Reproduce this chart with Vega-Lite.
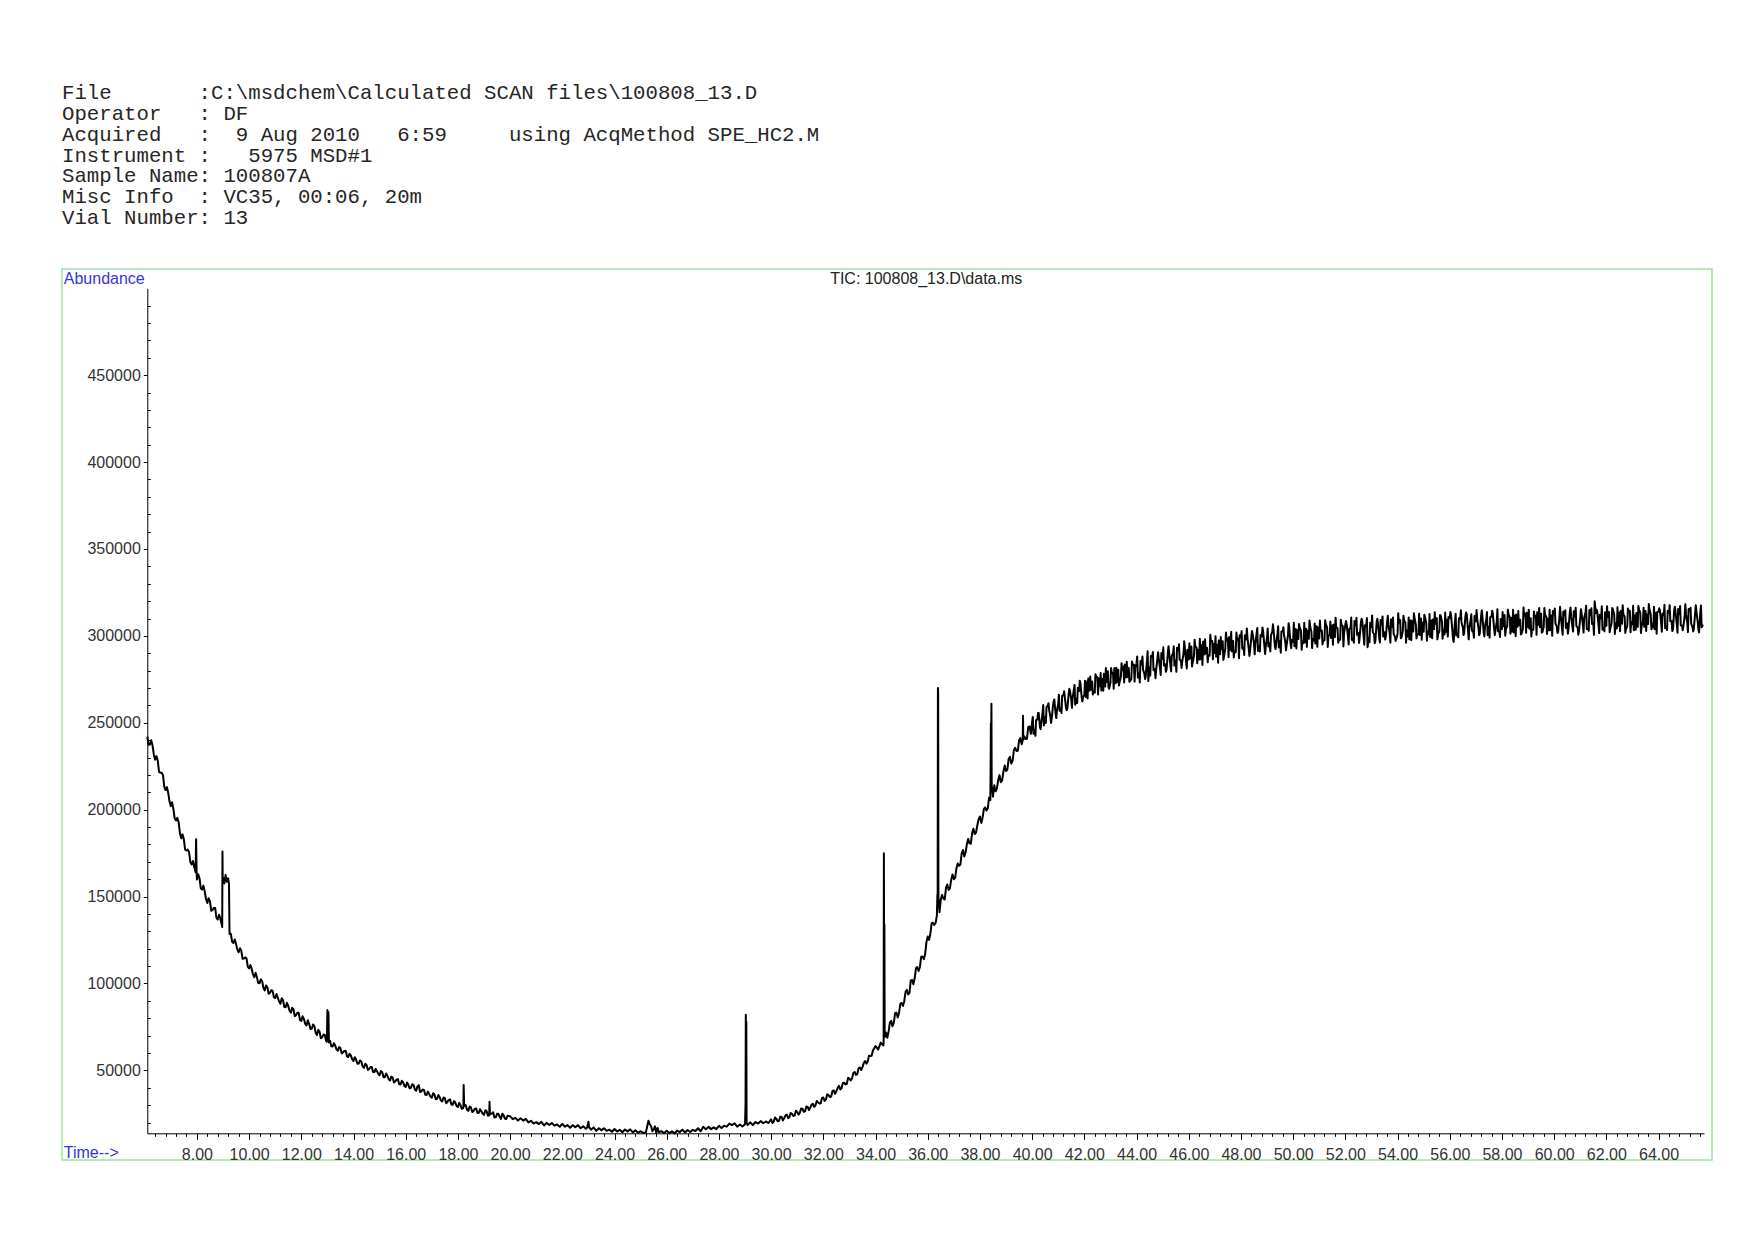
{
"$schema": "https://vega.github.io/schema/vega-lite/v6.json",
"width": 1650,
"height": 891,
"autosize": {"type": "none"},
"padding": {"left": 62, "top": 269, "right": 42, "bottom": 80},
"background": "white",
"title": {
"text": ["File\u00a0\u00a0\u00a0\u00a0\u00a0\u00a0\u00a0:C:\\msdchem\\Calculated SCAN files\\100808_13.D", "Operator\u00a0\u00a0\u00a0: DF", "Acquired\u00a0\u00a0\u00a0:\u00a0\u00a09 Aug 2010\u00a0\u00a0\u00a06:59\u00a0\u00a0\u00a0\u00a0\u00a0using AcqMethod SPE_HC2.M", "Instrument :\u00a0\u00a0\u00a05975 MSD#1", "Sample Name: 100807A", "Misc Info\u00a0\u00a0: VC35, 00:06, 20m", "Vial Number: 13"],
"anchor": "start", "frame": "group", "orient": "top", "font": "Liberation Mono", "fontSize": 20.7, "fontWeight": "normal", "color": "#262626", "lineHeight": 20.9, "baseline": "bottom", "offset": 20
},
"data": {"values": [
{"t":6.1,"a":242000},{"t":6.2,"a":237500},{"t":6.3,"a":237000},{"t":6.4,"a":228800},{"t":6.5,"a":228300},{"t":6.6,"a":221300},{"t":6.7,"a":220000},{"t":6.8,"a":211300},{"t":6.9,"a":209800},{"t":7.0,"a":202000},
{"t":7.1,"a":200300},{"t":7.2,"a":193800},{"t":7.3,"a":192800},{"t":7.4,"a":183500},{"t":7.5,"a":183000},{"t":7.6,"a":176500},{"t":7.7,"a":175500},{"t":7.8,"a":168500},{"t":7.9,"a":167000},{"t":7.95,"a":164000},
{"t":7.97,"a":183000},{"t":7.99,"a":163500},{"t":8.0,"a":159800},{"t":8.1,"a":160500},{"t":8.2,"a":154000},{"t":8.3,"a":153000},{"t":8.4,"a":146300},{"t":8.5,"a":147300},{"t":8.6,"a":142300},{"t":8.7,"a":143500},
{"t":8.8,"a":136800},{"t":8.9,"a":137300},{"t":8.95,"a":134000},{"t":8.97,"a":132500},{"t":8.98,"a":176000},{"t":8.99,"a":158000},{"t":9.0,"a":161000},{"t":9.05,"a":157500},{"t":9.1,"a":162500},{"t":9.15,"a":158500},
{"t":9.2,"a":160500},{"t":9.23,"a":157000},{"t":9.25,"a":128500},{"t":9.3,"a":128600},{"t":9.4,"a":123300},{"t":9.5,"a":122800},{"t":9.6,"a":118000},{"t":9.7,"a":118900},{"t":9.8,"a":114400},{"t":9.9,"a":114500},
{"t":10.0,"a":108600},{"t":10.1,"a":108500},{"t":10.2,"a":103600},{"t":10.3,"a":103600},{"t":10.4,"a":100200},{"t":10.5,"a":101300},{"t":10.6,"a":96000},{"t":10.7,"a":97800},{"t":10.8,"a":94700},{"t":10.9,"a":95900},
{"t":11.0,"a":91600},{"t":11.1,"a":91800},{"t":11.2,"a":88300},{"t":11.3,"a":90400},{"t":11.4,"a":86300},{"t":11.5,"a":87100},{"t":11.6,"a":83200},{"t":11.7,"a":85200},{"t":11.8,"a":81900},{"t":11.9,"a":83200},
{"t":12.0,"a":78500},{"t":12.1,"a":79600},{"t":12.2,"a":75800},{"t":12.3,"a":76800},{"t":12.4,"a":74000},{"t":12.5,"a":75600},{"t":12.6,"a":70400},{"t":12.7,"a":72200},{"t":12.8,"a":69100},{"t":12.9,"a":70400},
{"t":12.95,"a":67000},{"t":12.98,"a":66500},{"t":13.0,"a":84700},{"t":13.02,"a":72000},{"t":13.04,"a":83500},{"t":13.06,"a":66000},{"t":13.1,"a":67000},{"t":13.2,"a":63800},{"t":13.3,"a":64200},{"t":13.4,"a":61300},
{"t":13.5,"a":62800},{"t":13.6,"a":60300},{"t":13.7,"a":61300},{"t":13.8,"a":57700},{"t":13.9,"a":58500},{"t":14.0,"a":55400},{"t":14.1,"a":56100},{"t":14.2,"a":53900},{"t":14.3,"a":55100},{"t":14.4,"a":51400},
{"t":14.5,"a":53100},{"t":14.6,"a":50800},{"t":14.7,"a":51900},{"t":14.8,"a":49000},{"t":14.9,"a":49500},{"t":15.0,"a":47200},{"t":15.1,"a":49000},{"t":15.2,"a":46100},{"t":15.3,"a":46900},{"t":15.4,"a":44200},
{"t":15.5,"a":45900},{"t":15.6,"a":43700},{"t":15.7,"a":45000},{"t":15.8,"a":41900},{"t":15.9,"a":43100},{"t":16.0,"a":40500},{"t":16.1,"a":41700},{"t":16.2,"a":40000},{"t":16.3,"a":41600},{"t":16.4,"a":38300},
{"t":16.5,"a":41500},{"t":16.6,"a":37900},{"t":16.7,"a":38800},{"t":16.8,"a":35900},{"t":16.9,"a":36400},{"t":17.0,"a":34200},{"t":17.1,"a":36200},{"t":17.2,"a":33600},{"t":17.3,"a":34600},{"t":17.4,"a":32100},
{"t":17.5,"a":34000},{"t":17.6,"a":31900},{"t":17.7,"a":33300},{"t":17.8,"a":30200},{"t":17.9,"a":31500},{"t":18.0,"a":28900},{"t":18.1,"a":30000},{"t":18.2,"a":28300},{"t":18.21,"a":29000},{"t":18.22,"a":41600},
{"t":18.24,"a":29500},{"t":18.3,"a":30000},{"t":18.4,"a":26700},{"t":18.5,"a":28700},{"t":18.6,"a":26700},{"t":18.7,"a":28100},{"t":18.8,"a":25600},{"t":18.9,"a":26400},{"t":19.0,"a":24400},{"t":19.1,"a":26600},
{"t":19.2,"a":24100},{"t":19.21,"a":32000},{"t":19.23,"a":24800},{"t":19.3,"a":25100},{"t":19.4,"a":22900},{"t":19.5,"a":25000},{"t":19.6,"a":23300},{"t":19.7,"a":25000},{"t":19.8,"a":22300},{"t":19.9,"a":23900},
{"t":20.0,"a":23600},{"t":20.1,"a":22000},{"t":20.2,"a":22700},{"t":20.3,"a":21100},{"t":20.4,"a":22400},{"t":20.5,"a":21100},{"t":20.6,"a":22100},{"t":20.7,"a":20100},{"t":20.8,"a":21000},{"t":20.9,"a":19400},
{"t":21.0,"a":20200},{"t":21.1,"a":19100},{"t":21.2,"a":20400},{"t":21.3,"a":18300},{"t":21.4,"a":19800},{"t":21.5,"a":18600},{"t":21.6,"a":19700},{"t":21.7,"a":18200},{"t":21.8,"a":18900},{"t":21.9,"a":17600},
{"t":22.0,"a":19200},{"t":22.1,"a":17600},{"t":22.2,"a":18500},{"t":22.3,"a":17000},{"t":22.4,"a":18500},{"t":22.5,"a":17300},{"t":22.6,"a":18500},{"t":22.7,"a":16700},{"t":22.8,"a":17800},{"t":22.9,"a":16400},
{"t":22.95,"a":17000},{"t":23.0,"a":20500},{"t":23.02,"a":17500},{"t":23.1,"a":15900},{"t":23.2,"a":17200},{"t":23.3,"a":15200},{"t":23.4,"a":16700},{"t":23.5,"a":15600},{"t":23.6,"a":16700},{"t":23.7,"a":15200},
{"t":23.8,"a":15900},{"t":23.9,"a":14700},{"t":24.0,"a":16300},{"t":24.1,"a":14800},{"t":24.2,"a":15800},{"t":24.3,"a":14400},{"t":24.4,"a":16000},{"t":24.5,"a":14900},{"t":24.6,"a":16100},{"t":24.7,"a":14300},
{"t":24.8,"a":15500},{"t":24.9,"a":14100},{"t":25.0,"a":15000},{"t":25.1,"a":14000},{"t":25.2,"a":14300},{"t":25.3,"a":21000},{"t":25.35,"a":19000},{"t":25.4,"a":18000},{"t":25.45,"a":15000},{"t":25.5,"a":16000},
{"t":25.55,"a":17800},{"t":25.6,"a":14000},{"t":25.65,"a":16800},{"t":25.7,"a":14500},{"t":25.8,"a":15000},{"t":25.9,"a":13900},{"t":26.0,"a":15300},{"t":26.1,"a":13900},{"t":26.2,"a":15000},{"t":26.3,"a":13700},
{"t":26.4,"a":15400},{"t":26.5,"a":14500},{"t":26.6,"a":15900},{"t":26.7,"a":14300},{"t":26.8,"a":15700},{"t":26.9,"a":14500},{"t":27.0,"a":15800},{"t":27.1,"a":15100},{"t":27.2,"a":16700},{"t":27.3,"a":15000},
{"t":27.4,"a":17500},{"t":27.5,"a":16100},{"t":27.6,"a":17500},{"t":27.7,"a":16200},{"t":27.8,"a":17200},{"t":27.9,"a":16200},{"t":28.0,"a":18100},{"t":28.1,"a":16800},{"t":28.2,"a":18200},{"t":28.3,"a":17600},
{"t":28.4,"a":19400},{"t":28.5,"a":18500},{"t":28.6,"a":19500},{"t":28.7,"a":17600},{"t":28.8,"a":18900},{"t":28.9,"a":17700},{"t":29.0,"a":19000},{"t":29.02,"a":31000},{"t":29.03,"a":82000},{"t":29.04,"a":62000},
{"t":29.05,"a":78000},{"t":29.06,"a":20000},{"t":29.1,"a":18500},{"t":29.2,"a":20100},{"t":29.3,"a":18500},{"t":29.4,"a":20300},{"t":29.5,"a":19400},{"t":29.6,"a":20800},{"t":29.7,"a":19600},{"t":29.8,"a":20600},
{"t":29.9,"a":19700},{"t":30.0,"a":21900},{"t":30.1,"a":20500},{"t":30.2,"a":22100},{"t":30.3,"a":20900},{"t":30.4,"a":23200},{"t":30.5,"a":22500},{"t":30.6,"a":24600},{"t":30.7,"a":23100},{"t":30.8,"a":25000},
{"t":30.9,"a":24000},{"t":31.0,"a":26000},{"t":31.1,"a":25600},{"t":31.2,"a":28000},{"t":31.3,"a":26400},{"t":31.4,"a":29000},{"t":31.5,"a":28500},{"t":31.6,"a":30800},{"t":31.7,"a":29900},{"t":31.8,"a":31600},
{"t":31.9,"a":31100},{"t":32.0,"a":34400},{"t":32.1,"a":33300},{"t":32.2,"a":35800},{"t":32.3,"a":35000},{"t":32.4,"a":38500},{"t":32.5,"a":38100},{"t":32.6,"a":41100},{"t":32.7,"a":39800},{"t":32.8,"a":42900},
{"t":32.9,"a":42300},{"t":33.0,"a":45300},{"t":33.1,"a":45500},{"t":33.2,"a":49100},{"t":33.3,"a":47700},{"t":33.4,"a":51700},{"t":33.5,"a":51900},{"t":33.6,"a":55400},{"t":33.7,"a":55100},{"t":33.8,"a":58300},
{"t":33.9,"a":61500},{"t":34.0,"a":64000},{"t":34.1,"a":62000},{"t":34.2,"a":66000},{"t":34.3,"a":64300},{"t":34.31,"a":66000},{"t":34.32,"a":175000},{"t":34.33,"a":100000},{"t":34.34,"a":134000},{"t":34.35,"a":69000},
{"t":34.4,"a":71800},{"t":34.5,"a":72300},{"t":34.6,"a":78500},{"t":34.7,"a":77300},{"t":34.8,"a":83300},{"t":34.9,"a":83000},{"t":35.0,"a":88800},{"t":35.1,"a":89800},{"t":35.2,"a":96300},{"t":35.3,"a":94500},
{"t":35.4,"a":102000},{"t":35.5,"a":103000},{"t":35.6,"a":109500},{"t":35.7,"a":109500},{"t":35.8,"a":115500},{"t":35.9,"a":116800},{"t":36.0,"a":127000},{"t":36.1,"a":128500},{"t":36.2,"a":135000},{"t":36.3,"a":134800},
{"t":36.35,"a":139000},{"t":36.37,"a":151000},{"t":36.38,"a":147000},{"t":36.39,"a":270000},{"t":36.4,"a":267000},{"t":36.41,"a":150000},{"t":36.45,"a":141000},{"t":36.5,"a":148300},{"t":36.6,"a":148800},{"t":36.7,"a":155000},
{"t":36.8,"a":153800},{"t":36.9,"a":159800},{"t":37.0,"a":160000},{"t":37.1,"a":166300},{"t":37.2,"a":167800},{"t":37.3,"a":174800},{"t":37.4,"a":173100},{"t":37.5,"a":180200},{"t":37.6,"a":180600},{"t":37.7,"a":186500},
{"t":37.8,"a":186000},{"t":37.9,"a":191000},{"t":38.0,"a":196100},{"t":38.1,"a":195200},{"t":38.2,"a":201400},{"t":38.3,"a":200800},{"t":38.35,"a":207000},{"t":38.4,"a":205600},{"t":38.42,"a":249700},{"t":38.43,"a":238000},
{"t":38.44,"a":261000},{"t":38.45,"a":214000},{"t":38.5,"a":207500},{"t":38.6,"a":210600},{"t":38.7,"a":217000},{"t":38.8,"a":215800},{"t":38.9,"a":221900},{"t":39.0,"a":222200},{"t":39.1,"a":229200},{"t":39.2,"a":226500},
{"t":39.3,"a":234300},{"t":39.4,"a":233800},{"t":39.5,"a":239900},{"t":39.6,"a":237700},{"t":39.64,"a":240000},{"t":39.65,"a":254000},{"t":39.66,"a":240500},{"t":39.7,"a":242100},{"t":39.8,"a":240800},{"t":39.9,"a":247900},
{"t":40.0,"a":250600},{"t":40.1,"a":245800},{"t":40.2,"a":251800},{"t":40.3,"a":247500},{"t":40.4,"a":256200},{"t":40.5,"a":253200},{"t":40.6,"a":260000},{"t":40.7,"a":253400},{"t":40.8,"a":259800},{"t":40.9,"a":254900},
{"t":41.0,"a":260900},{"t":41.1,"a":258400},{"t":41.2,"a":265800},{"t":41.3,"a":258300},{"t":41.4,"a":266600},{"t":41.5,"a":263200},{"t":41.6,"a":269400},{"t":41.7,"a":263900},{"t":41.8,"a":268300},{"t":41.9,"a":264200},
{"t":42.0,"a":265900},{"t":42.1,"a":273800},{"t":42.2,"a":268600},{"t":42.3,"a":273800},{"t":42.4,"a":267300},{"t":42.5,"a":276100},{"t":42.6,"a":271000},{"t":42.7,"a":275200},{"t":42.8,"a":270900},{"t":42.9,"a":279600},
{"t":43.0,"a":273100},{"t":43.1,"a":278100},{"t":43.2,"a":272800},{"t":43.3,"a":280500},{"t":43.4,"a":276500},{"t":43.5,"a":282400},{"t":43.6,"a":276100},{"t":43.7,"a":281600},{"t":43.8,"a":275200},{"t":43.9,"a":283400},
{"t":44.0,"a":284300},{"t":44.1,"a":278500},{"t":44.2,"a":283500},{"t":44.3,"a":278200},{"t":44.4,"a":285900},{"t":44.45,"a":274000},{"t":44.5,"a":281900},{"t":44.6,"a":288200},{"t":44.7,"a":281000},{"t":44.8,"a":286900},
{"t":44.9,"a":281400},{"t":45.0,"a":286900},{"t":45.1,"a":283700},{"t":45.2,"a":290400},{"t":45.3,"a":282300},{"t":45.4,"a":289900},{"t":45.5,"a":285800},{"t":45.6,"a":291600},{"t":45.7,"a":285700},{"t":45.8,"a":289600},
{"t":45.9,"a":285100},{"t":46.0,"a":286400},{"t":46.1,"a":293900},{"t":46.2,"a":288400},{"t":46.3,"a":293200},{"t":46.4,"a":286400},{"t":46.5,"a":294800},{"t":46.6,"a":289300},{"t":46.7,"a":293200},{"t":46.8,"a":288600},
{"t":46.9,"a":297000},{"t":47.0,"a":290100},{"t":47.1,"a":294900},{"t":47.2,"a":289400},{"t":47.3,"a":296900},{"t":47.4,"a":292700},{"t":47.5,"a":298400},{"t":47.6,"a":291900},{"t":47.7,"a":297100},{"t":47.8,"a":290600},
{"t":47.9,"a":298500},{"t":48.0,"a":299200},{"t":48.1,"a":293100},{"t":48.2,"a":297900},{"t":48.3,"a":292300},{"t":48.4,"a":299800},{"t":48.5,"a":295500},{"t":48.6,"a":301500},{"t":48.7,"a":294100},{"t":48.8,"a":299700},
{"t":48.9,"a":294000},{"t":49.0,"a":299200},{"t":49.1,"a":295800},{"t":49.2,"a":302300},{"t":49.3,"a":293900},{"t":49.4,"a":301300},{"t":49.5,"a":297000},{"t":49.6,"a":302600},{"t":49.7,"a":296500},{"t":49.8,"a":300200},
{"t":49.9,"a":295500},{"t":50.0,"a":296600},{"t":50.1,"a":304000},{"t":50.2,"a":298200},{"t":50.3,"a":302900},{"t":50.4,"a":295800},{"t":50.5,"a":304100},{"t":50.6,"a":298400},{"t":50.7,"a":302200},{"t":50.8,"a":297300},
{"t":50.9,"a":305600},{"t":51.0,"a":298500},{"t":51.1,"a":303100},{"t":51.2,"a":297500},{"t":51.3,"a":304800},{"t":51.4,"a":300500},{"t":51.5,"a":306000},{"t":51.6,"a":299300},{"t":51.7,"a":304400},{"t":51.8,"a":297800},
{"t":51.9,"a":305600},{"t":52.0,"a":306600},{"t":52.1,"a":299600},{"t":52.2,"a":304600},{"t":52.3,"a":298100},{"t":52.4,"a":306100},{"t":52.5,"a":301600},{"t":52.6,"a":308100},{"t":52.7,"a":299600},{"t":52.8,"a":305600},
{"t":52.85,"a":293500},{"t":52.9,"a":299100},{"t":53.0,"a":305100},{"t":53.1,"a":301100},{"t":53.2,"a":308100},{"t":53.3,"a":298600},{"t":53.4,"a":306600},{"t":53.5,"a":302100},{"t":53.6,"a":308100},{"t":53.7,"a":301100},
{"t":53.8,"a":305100},{"t":53.9,"a":299600},{"t":54.0,"a":301100},{"t":54.1,"a":309100},{"t":54.2,"a":302600},{"t":54.3,"a":307600},{"t":54.4,"a":299600},{"t":54.5,"a":309000},{"t":54.6,"a":302500},{"t":54.7,"a":306500},
{"t":54.8,"a":301000},{"t":54.9,"a":310000},{"t":55.0,"a":302400},{"t":55.1,"a":307400},{"t":55.2,"a":300900},{"t":55.3,"a":308900},{"t":55.4,"a":303900},{"t":55.5,"a":310300},{"t":55.6,"a":302800},{"t":55.7,"a":308300},
{"t":55.8,"a":300800},{"t":55.9,"a":309300},{"t":56.0,"a":310200},{"t":56.1,"a":303200},{"t":56.15,"a":296500},{"t":56.2,"a":308200},{"t":56.3,"a":301700},{"t":56.4,"a":309700},{"t":56.5,"a":305000},{"t":56.6,"a":311500},
{"t":56.7,"a":303000},{"t":56.8,"a":309000},{"t":56.9,"a":302500},{"t":57.0,"a":308400},{"t":57.1,"a":304400},{"t":57.2,"a":311400},{"t":57.3,"a":301900},{"t":57.4,"a":309900},{"t":57.5,"a":305200},{"t":57.6,"a":311200},
{"t":57.7,"a":304200},{"t":57.8,"a":308200},{"t":57.9,"a":302700},{"t":58.0,"a":304000},{"t":58.1,"a":312000},{"t":58.2,"a":305500},{"t":58.3,"a":310500},{"t":58.4,"a":302500},{"t":58.5,"a":311800},{"t":58.6,"a":305300},
{"t":58.7,"a":309300},{"t":58.8,"a":303800},{"t":58.9,"a":312800},{"t":59.0,"a":305100},{"t":59.1,"a":310100},{"t":59.2,"a":303600},{"t":59.3,"a":311600},{"t":59.4,"a":306600},{"t":59.5,"a":312800},{"t":59.6,"a":305300},
{"t":59.7,"a":310800},{"t":59.8,"a":303300},{"t":59.9,"a":311800},{"t":60.0,"a":312500},{"t":60.1,"a":305500},{"t":60.2,"a":310500},{"t":60.3,"a":304000},{"t":60.4,"a":312000},{"t":60.5,"a":307200},{"t":60.6,"a":313700},
{"t":60.7,"a":305200},{"t":60.8,"a":311200},{"t":60.9,"a":304700},{"t":61.0,"a":310400},{"t":61.1,"a":306400},{"t":61.2,"a":313400},{"t":61.3,"a":303900},{"t":61.4,"a":311900},{"t":61.5,"a":307100},{"t":61.55,"a":320000},
{"t":61.6,"a":313100},{"t":61.7,"a":306100},{"t":61.8,"a":310100},{"t":61.9,"a":304600},{"t":62.0,"a":305800},{"t":62.1,"a":313800},{"t":62.2,"a":307300},{"t":62.3,"a":312300},{"t":62.4,"a":304300},{"t":62.5,"a":313500},
{"t":62.6,"a":307000},{"t":62.7,"a":311000},{"t":62.8,"a":305500},{"t":62.9,"a":314500},{"t":63.0,"a":306700},{"t":63.1,"a":311700},{"t":63.2,"a":305200},{"t":63.3,"a":313200},{"t":63.4,"a":308200},{"t":63.5,"a":314300},
{"t":63.6,"a":306800},{"t":63.7,"a":312300},{"t":63.8,"a":304800},{"t":63.9,"a":313300},{"t":64.0,"a":313900},{"t":64.1,"a":306900},{"t":64.2,"a":311900},{"t":64.3,"a":305400},{"t":64.4,"a":313400},{"t":64.5,"a":308500},
{"t":64.6,"a":315000},{"t":64.7,"a":306500},{"t":64.8,"a":312500},{"t":64.9,"a":306000},{"t":65.0,"a":311500},{"t":65.1,"a":307500},{"t":65.2,"a":314500},{"t":65.3,"a":305000},{"t":65.4,"a":313000},{"t":65.5,"a":308000},
{"t":65.55,"a":302000},{"t":65.6,"a":314000},{"t":65.7,"a":306500},
{"t":40.05,"a":243700},{"t":40.15,"a":251500},{"t":40.25,"a":255700},{"t":40.35,"a":249600},{"t":40.45,"a":248400},{"t":40.55,"a":258900},{"t":40.65,"a":257400},{"t":40.75,"a":252500},{"t":40.85,"a":263400},{"t":40.95,"a":257200},
{"t":41.05,"a":256900},{"t":41.15,"a":265600},{"t":41.25,"a":264900},{"t":41.35,"a":258400},{"t":41.45,"a":268500},{"t":41.55,"a":264100},{"t":41.65,"a":260400},{"t":41.75,"a":270200},{"t":41.85,"a":272800},{"t":41.95,"a":265000},
{"t":42.05,"a":264900},{"t":42.15,"a":275500},{"t":42.25,"a":269000},{"t":42.35,"a":268300},{"t":42.45,"a":276700},{"t":42.55,"a":275600},{"t":42.65,"a":268600},{"t":42.75,"a":278200},{"t":42.85,"a":273500},{"t":42.95,"a":269600},
{"t":43.05,"a":279200},{"t":43.15,"a":281500},{"t":43.25,"a":273500},{"t":43.35,"a":273500},{"t":43.45,"a":280300},{"t":43.55,"a":283500},{"t":43.65,"a":276400},{"t":43.75,"a":274100},{"t":43.85,"a":283600},{"t":43.95,"a":281800},
{"t":44.05,"a":276000},{"t":44.15,"a":285500},{"t":44.25,"a":280600},{"t":44.35,"a":276600},{"t":44.55,"a":288400},{"t":44.65,"a":280300},{"t":44.75,"a":280200},{"t":44.85,"a":287100},{"t":44.95,"a":290200},
{"t":45.05,"a":283000},{"t":45.15,"a":280700},{"t":45.25,"a":290200},{"t":45.35,"a":288400},{"t":45.45,"a":282900},{"t":45.55,"a":293200},{"t":45.65,"a":286400},{"t":45.75,"a":285400},{"t":45.85,"a":293400},{"t":45.95,"a":292000},
{"t":46.05,"a":287000},{"t":46.15,"a":284600},{"t":46.25,"a":294000},{"t":46.35,"a":292000},{"t":46.45,"a":286600},{"t":46.55,"a":296800},{"t":46.65,"a":289900},{"t":46.75,"a":288800},{"t":46.85,"a":296900},{"t":46.95,"a":295400},
{"t":47.05,"a":288000},{"t":47.15,"a":297300},{"t":47.25,"a":292200},{"t":47.35,"a":288000},{"t":47.45,"a":297300},{"t":47.55,"a":299400},{"t":47.65,"a":291100},{"t":47.75,"a":290900},{"t":47.85,"a":297500},{"t":47.95,"a":300400},
{"t":48.05,"a":292600},{"t":48.15,"a":300400},{"t":48.25,"a":298900},{"t":48.35,"a":291500},{"t":48.45,"a":300800},{"t":48.55,"a":295600},{"t":48.65,"a":291300},{"t":48.75,"a":300500},{"t":48.85,"a":302500},{"t":48.95,"a":294100},
{"t":49.05,"a":293900},{"t":49.15,"a":300400},{"t":49.25,"a":303300},{"t":49.35,"a":295800},{"t":49.45,"a":293300},{"t":49.55,"a":302500},{"t":49.65,"a":300500},{"t":49.75,"a":294800},{"t":49.85,"a":304800},{"t":49.95,"a":297800},
{"t":50.05,"a":294000},{"t":50.15,"a":303200},{"t":50.25,"a":305100},{"t":50.35,"a":296700},{"t":50.45,"a":296400},{"t":50.55,"a":302900},{"t":50.65,"a":305700},{"t":50.75,"a":298200},{"t":50.85,"a":295600},{"t":50.95,"a":304800},
{"t":51.05,"a":302700},{"t":51.15,"a":296900},{"t":51.25,"a":307000},{"t":51.35,"a":299900},{"t":51.45,"a":298800},{"t":51.55,"a":306500},{"t":51.65,"a":304800},{"t":51.75,"a":297300},{"t":51.85,"a":306500},{"t":51.95,"a":301200},
{"t":52.05,"a":306600},{"t":52.15,"a":304100},{"t":52.25,"a":297600},{"t":52.35,"a":308600},{"t":52.45,"a":300600},{"t":52.55,"a":299600},{"t":52.65,"a":308100},{"t":52.75,"a":306100},{"t":52.95,"a":307600},
{"t":53.05,"a":302100},{"t":53.15,"a":297100},{"t":53.25,"a":307100},{"t":53.35,"a":309100},{"t":53.45,"a":299600},{"t":53.55,"a":299600},{"t":53.65,"a":306600},{"t":53.75,"a":309600},{"t":53.85,"a":301100},{"t":53.95,"a":298100},
{"t":54.05,"a":307600},{"t":54.15,"a":299100},{"t":54.25,"a":309100},{"t":54.35,"a":303100},{"t":54.45,"a":298100},{"t":54.55,"a":308500},{"t":54.65,"a":310500},{"t":54.75,"a":301000},{"t":54.85,"a":300500},{"t":54.95,"a":307500},
{"t":55.05,"a":310900},{"t":55.15,"a":302400},{"t":55.25,"a":299400},{"t":55.35,"a":309400},{"t":55.45,"a":306900},{"t":55.55,"a":300800},{"t":55.65,"a":311800},{"t":55.75,"a":303800},{"t":55.85,"a":302300},{"t":55.95,"a":310800},
{"t":56.05,"a":311700},{"t":56.25,"a":300200},{"t":56.35,"a":310200},{"t":56.45,"a":307700},{"t":56.55,"a":301500},{"t":56.65,"a":312500},{"t":56.75,"a":304500},{"t":56.85,"a":303000},{"t":56.95,"a":311500},
{"t":57.05,"a":309900},{"t":57.15,"a":301400},{"t":57.25,"a":311400},{"t":57.35,"a":305400},{"t":57.45,"a":300400},{"t":57.55,"a":310700},{"t":57.65,"a":312700},{"t":57.75,"a":303200},{"t":57.85,"a":302700},{"t":57.95,"a":309700},
{"t":58.05,"a":305500},{"t":58.15,"a":304000},{"t":58.25,"a":312500},{"t":58.35,"a":310500},{"t":58.45,"a":302000},{"t":58.55,"a":312300},{"t":58.65,"a":306300},{"t":58.75,"a":301300},{"t":58.85,"a":311300},{"t":58.95,"a":313300},
{"t":59.05,"a":304100},{"t":59.15,"a":303600},{"t":59.25,"a":310600},{"t":59.35,"a":313600},{"t":59.45,"a":305100},{"t":59.55,"a":302300},{"t":59.65,"a":312300},{"t":59.75,"a":309800},{"t":59.85,"a":303300},{"t":59.95,"a":314300},
{"t":60.05,"a":307000},{"t":60.15,"a":302000},{"t":60.25,"a":312000},{"t":60.35,"a":314000},{"t":60.45,"a":304500},{"t":60.55,"a":304200},{"t":60.65,"a":311200},{"t":60.75,"a":314200},{"t":60.85,"a":305700},{"t":60.95,"a":302700},
{"t":61.05,"a":312900},{"t":61.15,"a":310400},{"t":61.25,"a":303900},{"t":61.35,"a":314900},{"t":61.45,"a":306900},{"t":61.65,"a":314100},{"t":61.75,"a":312100},{"t":61.85,"a":303600},{"t":61.95,"a":313600},
{"t":62.05,"a":310800},{"t":62.15,"a":304300},{"t":62.25,"a":315300},{"t":62.35,"a":307300},{"t":62.45,"a":305800},{"t":62.55,"a":314500},{"t":62.65,"a":312500},{"t":62.75,"a":304000},{"t":62.85,"a":314000},{"t":62.95,"a":308000},
{"t":63.05,"a":303200},{"t":63.15,"a":313200},{"t":63.25,"a":315200},{"t":63.35,"a":305700},{"t":63.45,"a":305200},{"t":63.55,"a":312300},{"t":63.65,"a":315300},{"t":63.75,"a":306800},{"t":63.85,"a":303800},{"t":63.95,"a":313800},
{"t":64.05,"a":314900},{"t":64.15,"a":312900},{"t":64.25,"a":304400},{"t":64.35,"a":314400},{"t":64.45,"a":308400},{"t":64.55,"a":303500},{"t":64.65,"a":313500},{"t":64.75,"a":315500},{"t":64.85,"a":306000},{"t":64.95,"a":305500},
{"t":65.05,"a":312500},{"t":65.15,"a":315500},{"t":65.25,"a":307000},{"t":65.35,"a":304000},{"t":65.45,"a":314000},{"t":65.65,"a":305000},
{"t":40.025,"a":253400},{"t":40.125,"a":242500},{"t":40.225,"a":255600},{"t":40.325,"a":246300},{"t":40.425,"a":260200},{"t":40.525,"a":249900},{"t":40.625,"a":261300},{"t":40.725,"a":249900},{"t":40.825,"a":262500},{"t":40.925,"a":252700},
{"t":41.025,"a":266200},{"t":41.125,"a":255700},{"t":41.225,"a":268200},{"t":41.325,"a":257300},{"t":41.425,"a":269600},{"t":41.525,"a":258600},{"t":41.625,"a":271800},{"t":41.725,"a":261400},{"t":41.825,"a":274200},{"t":41.925,"a":262200},
{"t":42.025,"a":274200},{"t":42.125,"a":264000},{"t":42.225,"a":276700},{"t":42.325,"a":266300},{"t":42.425,"a":278000},{"t":42.525,"a":266300},{"t":42.625,"a":278600},{"t":42.725,"a":268400},{"t":42.825,"a":281500},{"t":42.925,"a":270500},
{"t":43.025,"a":281500},{"t":43.125,"a":269600},{"t":43.225,"a":281700},{"t":43.325,"a":271400},{"t":43.425,"a":284300},{"t":43.525,"a":273200},{"t":43.625,"a":285100},{"t":43.725,"a":273600},{"t":43.825,"a":285200},{"t":43.925,"a":273700},
{"t":44.025,"a":288200},{"t":44.125,"a":273200},{"t":44.225,"a":288200},{"t":44.325,"a":275200},{"t":44.425,"a":291200},{"t":44.525,"a":277200},{"t":44.625,"a":290700},{"t":44.725,"a":275600},{"t":44.825,"a":290600},{"t":44.925,"a":277500},
{"t":45.025,"a":293500},{"t":45.125,"a":279400},{"t":45.225,"a":294100},{"t":45.325,"a":279600},{"t":45.425,"a":294000},{"t":45.525,"a":279400},{"t":45.625,"a":295200},{"t":45.725,"a":281600},{"t":45.825,"a":296900},{"t":45.925,"a":281300},
{"t":46.025,"a":295700},{"t":46.125,"a":282400},{"t":46.225,"a":297800},{"t":46.325,"a":284300},{"t":46.425,"a":298400},{"t":46.525,"a":283200},{"t":46.625,"a":298000},{"t":46.725,"a":284800},{"t":46.825,"a":300700},{"t":46.925,"a":286500},
{"t":47.025,"a":299800},{"t":47.125,"a":284600},{"t":47.225,"a":299400},{"t":47.325,"a":286200},{"t":47.425,"a":302000},{"t":47.525,"a":287800},{"t":47.625,"a":302400},{"t":47.725,"a":287600},{"t":47.825,"a":301900},{"t":47.925,"a":287100},
{"t":48.025,"a":302800},{"t":48.125,"a":289000},{"t":48.225,"a":304300},{"t":48.325,"a":288500},{"t":48.425,"a":302800},{"t":48.525,"a":289400},{"t":48.625,"a":304600},{"t":48.725,"a":291000},{"t":48.825,"a":304900},{"t":48.925,"a":289600},
{"t":49.025,"a":304300},{"t":49.125,"a":291000},{"t":49.225,"a":306700},{"t":49.325,"a":292400},{"t":49.425,"a":305600},{"t":49.525,"a":290300},{"t":49.625,"a":305000},{"t":49.725,"a":291700},{"t":49.825,"a":307300},{"t":49.925,"a":293000},
{"t":50.025,"a":307500},{"t":50.125,"a":292700},{"t":50.225,"a":306800},{"t":50.325,"a":292000},{"t":50.425,"a":307500},{"t":50.525,"a":293700},{"t":50.625,"a":308800},{"t":50.725,"a":293000},{"t":50.825,"a":307100},{"t":50.925,"a":293700},
{"t":51.025,"a":308800},{"t":51.125,"a":295100},{"t":51.225,"a":309000},{"t":51.325,"a":293600},{"t":51.425,"a":308300},{"t":51.525,"a":294900},{"t":51.625,"a":310500},{"t":51.725,"a":296100},{"t":51.825,"a":309300},{"t":51.925,"a":293900},
{"t":52.025,"a":308600},{"t":52.125,"a":295100},{"t":52.225,"a":310600},{"t":52.325,"a":296100},{"t":52.425,"a":310400},{"t":52.525,"a":295900},{"t":52.625,"a":309900},{"t":52.725,"a":294900},{"t":52.825,"a":310300},{"t":52.925,"a":296300},
{"t":53.025,"a":311800},{"t":53.125,"a":295800},{"t":53.225,"a":309800},{"t":53.325,"a":296200},{"t":53.425,"a":311200},{"t":53.525,"a":297900},{"t":53.625,"a":311600},{"t":53.725,"a":296100},{"t":53.825,"a":310600},{"t":53.925,"a":297100},
{"t":54.025,"a":313100},{"t":54.125,"a":298600},{"t":54.225,"a":311600},{"t":54.325,"a":296100},{"t":54.425,"a":310600},{"t":54.525,"a":297500},{"t":54.625,"a":313000},{"t":54.725,"a":298500},{"t":54.825,"a":312800},{"t":54.925,"a":297800},
{"t":55.025,"a":312200},{"t":55.125,"a":297200},{"t":55.225,"a":312600},{"t":55.325,"a":298600},{"t":55.425,"a":313600},{"t":55.525,"a":298000},{"t":55.625,"a":312000},{"t":55.725,"a":298400},{"t":55.825,"a":313400},{"t":55.925,"a":299600},
{"t":56.025,"a":313700},{"t":56.125,"a":298200},{"t":56.225,"a":312700},{"t":56.325,"a":299200},{"t":56.425,"a":314700},{"t":56.525,"a":300500},{"t":56.625,"a":313500},{"t":56.725,"a":298000},{"t":56.825,"a":312500},{"t":56.925,"a":299000},
{"t":57.025,"a":314900},{"t":57.125,"a":300400},{"t":57.225,"a":314700},{"t":57.325,"a":299700},{"t":57.425,"a":313700},{"t":57.525,"a":299000},{"t":57.625,"a":314400},{"t":57.725,"a":300400},{"t":57.825,"a":315400},{"t":57.925,"a":299400},
{"t":58.025,"a":313700},{"t":58.125,"a":300100},{"t":58.225,"a":315100},{"t":58.325,"a":301300},{"t":58.425,"a":315000},{"t":58.525,"a":299800},{"t":58.625,"a":314300},{"t":58.725,"a":300800},{"t":58.825,"a":316300},{"t":58.925,"a":301800},
{"t":59.025,"a":315100},{"t":59.125,"a":299600},{"t":59.225,"a":314100},{"t":59.325,"a":300600},{"t":59.425,"a":316100},{"t":59.525,"a":301800},{"t":59.625,"a":316100},{"t":59.725,"a":301100},{"t":59.825,"a":315100},{"t":59.925,"a":300100},
{"t":60.025,"a":315700},{"t":60.125,"a":301700},{"t":60.225,"a":316700},{"t":60.325,"a":300700},{"t":60.425,"a":314700},{"t":60.525,"a":301300},{"t":60.625,"a":316300},{"t":60.725,"a":302500},{"t":60.825,"a":316200},{"t":60.925,"a":300700},
{"t":61.025,"a":315400},{"t":61.125,"a":301900},{"t":61.225,"a":317400},{"t":61.325,"a":302900},{"t":61.425,"a":315900},{"t":61.525,"a":300600},{"t":61.625,"a":315100},{"t":61.725,"a":301600},{"t":61.825,"a":317100},{"t":61.925,"a":302600},
{"t":62.025,"a":317100},{"t":62.125,"a":302100},{"t":62.225,"a":316100},{"t":62.325,"a":301100},{"t":62.425,"a":316500},{"t":62.525,"a":302700},{"t":62.625,"a":317700},{"t":62.725,"a":301700},{"t":62.825,"a":315700},{"t":62.925,"a":302100},
{"t":63.025,"a":317300},{"t":63.125,"a":303500},{"t":63.225,"a":317200},{"t":63.325,"a":301700},{"t":63.425,"a":316200},{"t":63.525,"a":302800},{"t":63.625,"a":318300},{"t":63.725,"a":303800},{"t":63.825,"a":316800},{"t":63.925,"a":301300},
{"t":64.025,"a":315900},{"t":64.125,"a":302400},{"t":64.225,"a":317900},{"t":64.325,"a":303400},{"t":64.425,"a":317700},{"t":64.525,"a":302800},{"t":64.625,"a":316800},{"t":64.725,"a":301800},{"t":64.825,"a":317200},{"t":64.925,"a":303200},
{"t":65.025,"a":318200},{"t":65.125,"a":302200},{"t":65.225,"a":316200},{"t":65.325,"a":302600},{"t":65.425,"a":317600},{"t":65.525,"a":303800},{"t":65.625,"a":317500},
{"t":6.15,"a":237300},{"t":6.25,"a":240000},{"t":6.35,"a":231800},{"t":6.45,"a":230800},{"t":6.55,"a":221800},{"t":6.65,"a":221300},{"t":6.75,"a":213300},{"t":6.85,"a":213000},{"t":6.95,"a":204800},{"t":7.05,"a":204300},
{"t":7.15,"a":195000},{"t":7.25,"a":195300},{"t":7.35,"a":186500},{"t":7.45,"a":185800},{"t":7.55,"a":177000},{"t":7.65,"a":177000},{"t":7.75,"a":169800},{"t":7.85,"a":170500},{"t":8.05,"a":162800},{"t":8.15,"a":154800},
{"t":8.25,"a":156300},{"t":8.35,"a":148500},{"t":8.45,"a":149000},{"t":8.55,"a":141800},{"t":8.65,"a":143500},{"t":8.75,"a":137800},{"t":8.85,"a":139500},
{"t":9.35,"a":124000},{"t":9.45,"a":125300},{"t":9.55,"a":119500},{"t":9.65,"a":120300},{"t":9.75,"a":114300},{"t":9.85,"a":115000},{"t":9.95,"a":109700},{"t":10.05,"a":110600},{"t":10.15,"a":105200},{"t":10.25,"a":106100},
{"t":10.35,"a":100300},{"t":10.45,"a":102400},{"t":10.55,"a":97400},{"t":10.65,"a":98900},{"t":10.75,"a":94100},{"t":10.85,"a":96100},{"t":10.95,"a":92000},{"t":11.05,"a":93900},{"t":11.15,"a":89600},{"t":11.25,"a":91500},
{"t":11.35,"a":86400},{"t":11.45,"a":88900},{"t":11.55,"a":84300},{"t":11.65,"a":86000},{"t":11.75,"a":81200},{"t":11.85,"a":83100},{"t":11.95,"a":79000},{"t":12.05,"a":81100},{"t":12.15,"a":76800},{"t":12.25,"a":78800},
{"t":12.35,"a":73800},{"t":12.45,"a":76400},{"t":12.55,"a":71700},{"t":12.65,"a":73300},{"t":12.75,"a":68500},{"t":12.85,"a":70600},
{"t":13.15,"a":63900},{"t":13.25,"a":65700},{"t":13.35,"a":62100},{"t":13.45,"a":63400},{"t":13.55,"a":59700},{"t":13.65,"a":61200},{"t":13.75,"a":58100},{"t":13.85,"a":59600},{"t":13.95,"a":56300},{"t":14.05,"a":57600},
{"t":14.15,"a":53800},{"t":14.25,"a":55700},{"t":14.35,"a":52300},{"t":14.45,"a":53800},{"t":14.55,"a":50300},{"t":14.65,"a":52000},{"t":14.75,"a":49100},{"t":14.85,"a":50900},{"t":14.95,"a":48000},{"t":15.05,"a":49700},
{"t":15.15,"a":46100},{"t":15.25,"a":48200},{"t":15.35,"a":44900},{"t":15.45,"a":46400},{"t":15.55,"a":43000},{"t":15.65,"a":44700},{"t":15.75,"a":42000},{"t":15.85,"a":44000},{"t":15.95,"a":41100},{"t":16.05,"a":43000},
{"t":16.15,"a":39600},{"t":16.25,"a":42000},{"t":16.35,"a":39000},{"t":16.45,"a":40800},{"t":16.55,"a":37500},{"t":16.65,"a":39000},{"t":16.75,"a":36000},{"t":16.85,"a":37800},{"t":16.95,"a":34900},{"t":17.05,"a":36800},
{"t":17.15,"a":33400},{"t":17.25,"a":35800},{"t":17.35,"a":32700},{"t":17.45,"a":34400},{"t":17.55,"a":31100},{"t":17.65,"a":33000},{"t":17.75,"a":30300},{"t":17.85,"a":32300},{"t":17.95,"a":29500},{"t":18.05,"a":31300},
{"t":18.15,"a":27900},{"t":18.35,"a":27400},{"t":18.45,"a":29200},{"t":18.55,"a":26100},{"t":18.65,"a":28000},{"t":18.75,"a":25500},{"t":18.85,"a":27700},{"t":18.95,"a":25000},{"t":19.05,"a":27100},{"t":19.15,"a":23900},
{"t":19.35,"a":25900},{"t":19.45,"a":23000},{"t":19.55,"a":25000},{"t":19.65,"a":22100},{"t":19.75,"a":24300},{"t":19.85,"a":22000},
{"t":30.05,"a":19700},{"t":30.15,"a":22900},{"t":30.25,"a":20800},{"t":30.35,"a":23400},{"t":30.45,"a":21200},{"t":30.55,"a":24100},{"t":30.65,"a":22500},{"t":30.75,"a":25500},{"t":30.85,"a":23800},{"t":30.95,"a":26800},
{"t":31.05,"a":24600},{"t":31.15,"a":28100},{"t":31.25,"a":26200},{"t":31.35,"a":29200},{"t":31.45,"a":27200},{"t":31.55,"a":30300},{"t":31.65,"a":29000},{"t":31.75,"a":32400},{"t":31.85,"a":30900},{"t":31.95,"a":34200},
{"t":32.05,"a":32400},{"t":32.15,"a":36200},{"t":32.25,"a":34700},{"t":32.35,"a":38100},{"t":32.45,"a":36500},{"t":32.55,"a":40000},{"t":32.65,"a":39000},{"t":32.75,"a":42800},{"t":32.85,"a":41900},{"t":32.95,"a":45700},
{"t":33.05,"a":44200},{"t":33.15,"a":48500},{"t":33.25,"a":47400},{"t":33.35,"a":51200},{"t":33.45,"a":50200},{"t":33.55,"a":54300},{"t":33.65,"a":53900},{"t":33.75,"a":58400},{"t":33.85,"a":58400},
{"t":34.45,"a":68800},{"t":34.55,"a":77500},{"t":34.65,"a":75400},{"t":34.75,"a":82900},{"t":34.85,"a":80500},{"t":34.95,"a":88300},{"t":35.05,"a":87100},{"t":35.15,"a":95200},{"t":35.25,"a":93700},{"t":35.35,"a":101800},
{"t":35.45,"a":99600},{"t":35.55,"a":108800},{"t":35.65,"a":107200},{"t":35.75,"a":115400},{"t":35.85,"a":114000},{"t":35.95,"a":123800},{"t":36.05,"a":125100},{"t":36.15,"a":134700},{"t":36.25,"a":133700},
{"t":36.55,"a":151000},{"t":36.65,"a":148300},{"t":36.75,"a":157000},{"t":36.85,"a":154900},{"t":36.95,"a":162700},{"t":37.05,"a":160800},{"t":37.15,"a":169100},{"t":37.25,"a":168400},{"t":37.35,"a":176800},{"t":37.45,"a":175400},
{"t":37.55,"a":183200},{"t":37.65,"a":180400},{"t":37.75,"a":189000},{"t":37.85,"a":186900},{"t":37.95,"a":194500},{"t":38.05,"a":192400},{"t":38.15,"a":200400},{"t":38.25,"a":199500},
{"t":38.55,"a":214100},{"t":38.65,"a":212300},{"t":38.75,"a":219900},{"t":38.85,"a":216900},{"t":38.95,"a":225400},{"t":39.05,"a":223000},{"t":39.15,"a":230400},{"t":39.25,"a":228000},{"t":39.35,"a":235600},{"t":39.45,"a":233900},
{"t":39.55,"a":241200},{"t":39.75,"a":240700},{"t":39.85,"a":247500},{"t":39.95,"a":243600}
]},
"layer": [
{
"mark": {"type": "line", "color": "#000000", "strokeWidth": 2, "strokeJoin": "round", "interpolate": "linear"},
"encoding": {
"x": {"field": "t", "type": "quantitative",
"scale": {"domain": [6.1, 65.74], "range": [85.3, 1642], "nice": false, "zero": false},
"axis": {"orient": "bottom", "offset": -26.7, "values": [8,10,12,14,16,18,20,22,24,26,28,30,32,34,36,38,40,42,44,46,48,50,52,54,56,58,60,62,64], "format": ".2f", "tickSize": 6, "labelPadding": 7, "domain": true,
"title": "Time-->", "titleX": 1.3, "titleY": 19.4, "titleAlign": "left", "titleBaseline": "middle", "titleColor": "#3535d6"}},
"y": {"field": "a", "type": "quantitative",
"scale": {"domain": [13800, 500000], "range": [864.3, 19.3], "nice": false, "zero": false},
"axis": {"orient": "left", "offset": -85.3, "values": [50000,100000,150000,200000,250000,300000,350000,400000,450000], "format": "d", "tickSize": 4, "labelPadding": 3, "domain": true,
"title": "Abundance", "titleAngle": 0, "titleX": -84, "titleY": 9, "titleAlign": "left", "titleBaseline": "middle", "titleColor": "#3535d6"}}
}
},
{
"transform": [{"filter": "datum.t == 6.1"}],
"mark": {"type": "line", "strokeOpacity": 0},
"encoding": {
"x": {"field": "t", "type": "quantitative",
"axis": {"orient": "bottom", "offset": -26.7, "values": [6.4,6.8,7.2,7.6,8.4,8.8,9.2,9.6,10.4,10.8,11.2,11.6,12.4,12.8,13.2,13.6,14.4,14.8,15.2,15.6,16.4,16.8,17.2,17.6,18.4,18.8,19.2,19.6,20.4,20.8,21.2,21.6,22.4,22.8,23.2,23.6,24.4,24.8,25.2,25.6,26.4,26.8,27.2,27.6,28.4,28.8,29.2,29.6,30.4,30.8,31.2,31.6,32.4,32.8,33.2,33.6,34.4,34.8,35.2,35.6,36.4,36.8,37.2,37.6,38.4,38.8,39.2,39.6,40.4,40.8,41.2,41.6,42.4,42.8,43.2,43.6,44.4,44.8,45.2,45.6,46.4,46.8,47.2,47.6,48.4,48.8,49.2,49.6,50.4,50.8,51.2,51.6,52.4,52.8,53.2,53.6,54.4,54.8,55.2,55.6,56.4,56.8,57.2,57.6,58.4,58.8,59.2,59.6,60.4,60.8,61.2,61.6,62.4,62.8,63.2,63.6,64.4,64.8,65.2,65.6], "tickSize": 3, "labels": false, "domain": false, "title": null}},
"y": {"field": "a", "type": "quantitative",
"axis": {"orient": "left", "offset": -85.3, "values": [20000,30000,40000,60000,70000,80000,90000,110000,120000,130000,140000,160000,170000,180000,190000,210000,220000,230000,240000,260000,270000,280000,290000,310000,320000,330000,340000,360000,370000,380000,390000,410000,420000,430000,440000,460000,470000,480000,490000], "tickSize": -3, "labels": false, "domain": false, "title": null}}
}
},
{
"transform": [{"filter": "datum.t == 6.1"}],
"mark": {"type": "line", "strokeOpacity": 0},
"encoding": {
"x": {"field": "t", "type": "quantitative",
"axis": {"orient": "top", "offset": 0, "ticks": false, "labels": false, "domain": false, "title": "TIC: 100808_13.D\\data.ms", "titleX": 863.7, "titleY": 9.7, "titleAlign": "center", "titleBaseline": "middle", "titleColor": "#222222"}},
"y": {"field": "a", "type": "quantitative", "axis": null}
}
}
],
"resolve": {"axis": {"x": "independent", "y": "independent"}},
"config": {
"view": {"stroke": "#9be79b", "strokeWidth": 1.5},
"axis": {"grid": false, "labelFont": "Liberation Sans", "titleFont": "Liberation Sans", "labelFontSize": 16, "titleFontSize": 16, "titleFontWeight": "normal", "labelColor": "#333333", "tickColor": "#000000", "domainColor": "#000000", "tickWidth": 1, "domainWidth": 1, "labelFlush": false, "labelOverlap": false}
}
}
